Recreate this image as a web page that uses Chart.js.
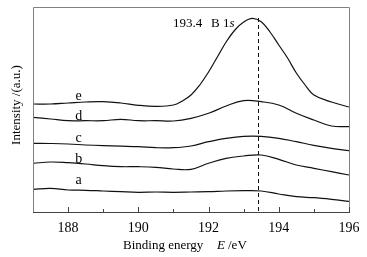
<!DOCTYPE html>
<html>
<head>
<meta charset="utf-8">
<script src="https://cdn.jsdelivr.net/npm/chart.js@4.4.0/dist/chart.umd.min.js"></script>
<style>
  html, body { margin: 0; padding: 0; background: #fff; }
  #wrap { width: 367px; height: 257px; }
</style>
</head>
<body>
<div id="wrap"><canvas id="myChart"></canvas></div>
<script>
// binding energy grid for curves a-d (eV)
const energyGrid = [187, 187.5, 188, 188.5, 189, 189.5, 190, 190.5, 191, 191.5, 192, 192.5, 193, 193.5, 194, 194.5, 195, 195.5, 196];
const curveA = [22.7, 23.7, 22, 21.7, 21, 20.3, 19.7, 20, 19.7, 20, 20.3, 21, 21.3, 21, 18, 15.3, 14.3, 12.7, 10.7];
const curveB = [48.7, 50, 49.3, 48, 46.3, 45.3, 45.3, 44.7, 43, 42.7, 48.7, 53.7, 56, 57, 52.7, 47, 43.7, 40.3, 37];
const curveC = [68.7, 68.5, 68, 67, 66.3, 65.8, 65.3, 64.3, 64.3, 66, 70.3, 73.7, 75.7, 75.7, 73.7, 70.3, 66.7, 63.7, 61.3];
const curveD = [94.7, 93, 91.3, 91.3, 91.3, 92.7, 91.3, 91.3, 91, 93.7, 98.7, 106, 111.3, 110.3, 107, 98.7, 92, 86, 85.3];

// curve e has the big peak, so it gets a finer grid
const energyE = [187, 187.5, 188, 188.5, 189, 189.5, 190, 190.5, 191, 191.25, 191.5, 191.75, 192, 192.25, 192.5, 192.75, 193, 193.25, 193.5, 193.75, 194, 194.25, 194.5, 194.75, 195, 195.5, 196];
const curveE = [108, 108, 109, 110, 110.3, 109, 106.7, 105.7, 107, 111, 117, 127, 140, 155, 170, 182, 190, 193.7, 190.3, 180, 167, 154, 139, 127, 117, 110, 105];

const curveNames = ['a', 'b', 'c', 'd', 'e'];
const nameLevels = [32, 53, 74, 95.3, 116]; // where the letters sit
const nameEnergy = 188.3;

const majorTicks = [188, 190, 192, 194, 196];
const minorTicks = [189, 191, 193, 195];
const peakEnergy = 193.4;
const peakTop = 194;

function toPoints(xs, ys) {
  return ys.map((y, i) => ({ x: xs[i], y: y }));
}

const serif = '"Liberation Serif", "Times New Roman", serif';

const extras = {
  id: 'extras',
  afterDatasetsDraw(chart) {
    const ctx = chart.ctx;
    const area = chart.chartArea;
    const xs = chart.scales.x;
    const ys = chart.scales.y;
    ctx.save();

    // frame
    ctx.lineWidth = 1;
    ctx.strokeStyle = '#808080';
    ctx.beginPath();
    ctx.moveTo(area.left + 0.5, area.bottom + 0.5);
    ctx.lineTo(area.left + 0.5, area.top + 0.5);
    ctx.lineTo(area.right + 0.5, area.top + 0.5);
    ctx.lineTo(area.right + 0.5, area.bottom + 0.5);
    ctx.stroke();
    ctx.strokeStyle = '#444';
    ctx.beginPath();
    ctx.moveTo(area.left, area.bottom + 0.5);
    ctx.lineTo(area.right + 1, area.bottom + 0.5);
    ctx.stroke();

    // inward ticks
    ctx.strokeStyle = '#444';
    majorTicks.forEach((v) => {
      const px = Math.round(xs.getPixelForValue(v)) + 0.5;
      ctx.beginPath();
      ctx.moveTo(px, area.bottom);
      ctx.lineTo(px, area.bottom - 5);
      ctx.stroke();
    });
    minorTicks.forEach((v) => {
      const px = Math.round(xs.getPixelForValue(v)) + 0.5;
      ctx.beginPath();
      ctx.moveTo(px, area.bottom);
      ctx.lineTo(px, area.bottom - 3);
      ctx.stroke();
    });

    // dashed marker at the peak
    const dx = Math.round(xs.getPixelForValue(peakEnergy)) + 0.5;
    ctx.strokeStyle = '#111';
    ctx.setLineDash([4, 3]);
    ctx.beginPath();
    ctx.moveTo(dx, ys.getPixelForValue(peakTop));
    ctx.lineTo(dx, area.bottom);
    ctx.stroke();
    ctx.setLineDash([]);

    // curve letters
    ctx.fillStyle = '#000';
    ctx.font = '14px ' + serif;
    ctx.textAlign = 'center';
    ctx.textBaseline = 'middle';
    curveNames.forEach((n, i) => {
      ctx.fillText(n, xs.getPixelForValue(nameEnergy), ys.getPixelForValue(nameLevels[i]));
    });

    // peak annotation
    ctx.textAlign = 'left';
    ctx.textBaseline = 'alphabetic';
    ctx.font = '13px ' + serif;
    ctx.fillText('193.4', 173, 27);
    ctx.fillText('B 1', 211, 27);
    const w = ctx.measureText('B 1').width;
    ctx.font = 'italic 13px ' + serif;
    ctx.fillText('s', 211 + w, 27);

    // x title
    ctx.font = '13px ' + serif;
    ctx.fillText('Binding energy', 123, 249);
    ctx.font = 'italic 13px ' + serif;
    ctx.fillText('E', 217, 249);
    ctx.font = '13px ' + serif;
    ctx.fillText('/eV', 228, 249);

    // y title
    ctx.translate(20, 105);
    ctx.rotate(-Math.PI / 2);
    ctx.textAlign = 'center';
    ctx.fillText('Intensity /(a.u.)', 0, 0);
    ctx.restore();
  }
};

const lineStyle = {
  borderColor: '#111',
  borderWidth: 1.2,
  pointRadius: 0,
  tension: 0.4,
  fill: false
};

const chartTarget = document.querySelector('#myChart');
const myChart = new Chart(chartTarget, {
  type: 'line',
  data: {
    datasets: [
      { label: 'a', data: toPoints(energyGrid, curveA), ...lineStyle },
      { label: 'b', data: toPoints(energyGrid, curveB), ...lineStyle },
      { label: 'c', data: toPoints(energyGrid, curveC), ...lineStyle },
      { label: 'd', data: toPoints(energyGrid, curveD), ...lineStyle },
      { label: 'e', data: toPoints(energyE, curveE), ...lineStyle }
    ]
  },
  options: {
    responsive: true,
    maintainAspectRatio: false,
    animation: false,
    devicePixelRatio: 1,
    layout: { padding: { top: 7, right: 18, left: 0, bottom: 0 } },
    plugins: { legend: { display: false }, tooltip: { enabled: false } },
    scales: {
      x: {
        type: 'linear',
        min: 187,
        max: 196,
        grid: { display: false },
        border: { display: false },
        afterBuildTicks: (scale) => { scale.ticks = majorTicks.map((v) => ({ value: v })); },
        afterFit: (scale) => { scale.height = 45; },
        ticks: {
          color: '#000',
          padding: 0,
          maxRotation: 0,
          font: { family: serif, size: 14 }
        }
      },
      y: {
        min: 0,
        max: 205,
        grid: { display: false },
        border: { display: false },
        ticks: { display: false },
        afterFit: (scale) => { scale.width = 33; }
      }
    }
  },
  plugins: [extras]
});
</script>
</body>
</html>
